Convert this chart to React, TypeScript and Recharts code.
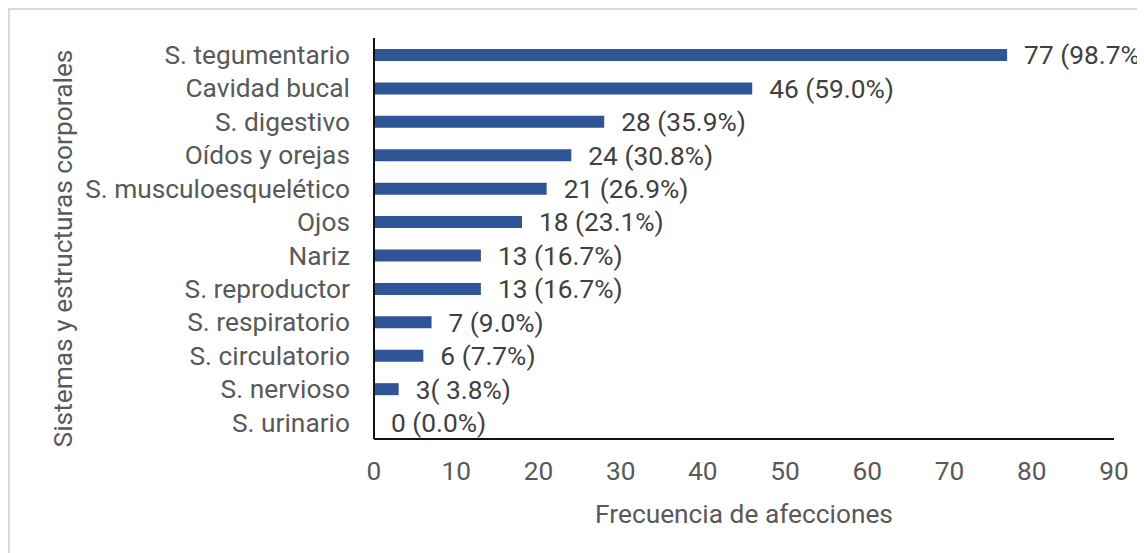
import React from "react";
import { BarChart, Bar, XAxis, YAxis, LabelList } from "recharts";

const categories = [
  "S. tegumentario",
  "Cavidad bucal",
  "S. digestivo",
  "Oídos y orejas",
  "S. musculoesquelético",
  "Ojos",
  "Nariz",
  "S. reproductor",
  "S. respiratorio",
  "S. circulatorio",
  "S. nervioso",
  "S. urinario",
];

const values = [77, 46, 28, 24, 21, 18, 13, 13, 7, 6, 3, 0];

const valueLabels = [
  "77 (98.7%)",
  "46 (59.0%)",
  "28 (35.9%)",
  "24 (30.8%)",
  "21 (26.9%)",
  "18 (23.1%)",
  "13 (16.7%)",
  "13 (16.7%)",
  "7 (9.0%)",
  "6 (7.7%)",
  "3( 3.8%)",
  "0 (0.0%)",
];

const xTicks = [0, 10, 20, 30, 40, 50, 60, 70, 80, 90];

type Row = { name: string; value: number; label: string };

const rows: Row[] = categories.map((name, i) => ({
  name,
  value: values[i],
  label: valueLabels[i],
}));

const FONT = "Roboto, 'Noto Sans', sans-serif";
const FS = 26.3;

const App: React.FC = () => {
  return (
    <div
      style={{
        width: 1135,
        height: 543,
        borderTop: "2px solid #d9d9d9",
        borderLeft: "2px solid #d9d9d9",
        background: "#fff",
        fontFamily: FONT,
      }}
    >
      <BarChart
        width={1135}
        height={543}
        data={rows}
        layout="vertical"
        margin={{ top: 28, right: 31, bottom: 22, left: 0 }}
      >
        <XAxis
          type="number"
          domain={[0, 90]}
          ticks={xTicks}
          interval={0}
          axisLine={{ stroke: "#111", strokeWidth: 2 }}
          tickLine={false}
          tickSize={0}
          tickMargin={22}
          height={92}
          tick={{ fill: "#595959", fontSize: FS, fontFamily: FONT }}
          label={{
            value: "Frecuencia de afecciones",
            position: "insideBottom",
            offset: 8,
            fill: "#595959",
            fontSize: FS,
            fontFamily: FONT,
          }}
        />
        <YAxis
          type="category"
          dataKey="name"
          width={364}
          interval={0}
          axisLine={{ stroke: "#111", strokeWidth: 2 }}
          tickLine={false}
          tickSize={0}
          tickMargin={24}
          tick={{ fill: "#595959", fontSize: FS, fontFamily: FONT }}
          label={{
            value: "Sistemas y estructuras corporales",
            angle: -90,
            position: "insideLeft",
            offset: 53,
            dy: 10,
            fill: "#595959",
            fontSize: FS,
            fontFamily: FONT,
            style: { textAnchor: "middle" },
          }}
        />
        <Bar
          dataKey="value"
          fill="#2f5597"
          barSize={12}
          minPointSize={0.01}
          isAnimationActive={false}
        >
          <LabelList
            dataKey="label"
            position="right"
            offset={17}
            fill="#404040"
            fontSize={FS}
            fontFamily={FONT}
          />
        </Bar>
      </BarChart>
    </div>
  );
};

export default App;
